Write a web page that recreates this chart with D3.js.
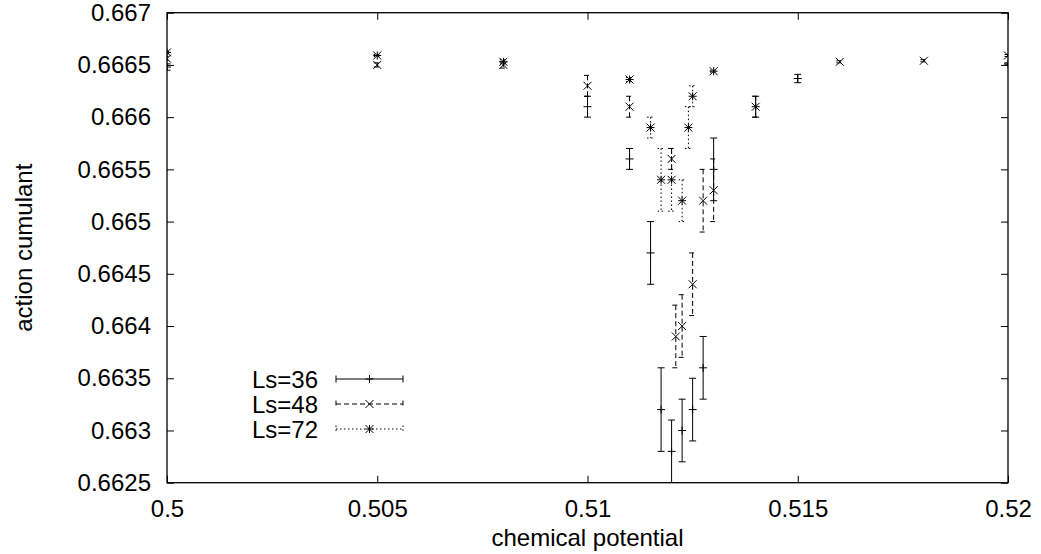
<!DOCTYPE html>
<html>
<head>
<meta charset="utf-8">
<title>action cumulant</title>
<script src="https://d3js.org/d3.v7.min.js"></script>
<style>
 body { margin: 0; background: #fff; }
 text { font-family: "Liberation Sans", Arial, sans-serif; fill: #000; }
</style>
</head>
<body>
<svg id="chart" width="1041" height="554"></svg>
<script>
// tick labels
var xTicks = [0.5, 0.505, 0.51, 0.515, 0.52]
var yTicks = [0.6625, 0.663, 0.6635, 0.664, 0.6645, 0.665, 0.6655, 0.666, 0.6665, 0.667]

// Ls=36
var mu36  = [0.5, 0.51, 0.511, 0.5115, 0.51175, 0.512, 0.51225, 0.5125, 0.51275, 0.513, 0.514, 0.515, 0.52]
var val36 = [0.66648, 0.6661, 0.6656, 0.6647, 0.6632, 0.6628, 0.6630, 0.6632, 0.6636, 0.6655, 0.6661, 0.66637, 0.66651]
var err36 = [0.00003, 0.0001, 0.0001, 0.0003, 0.0004, 0.0003, 0.0003, 0.0003, 0.0003, 0.0003, 0.0001, 0.00004, 0.00001]

// Ls=48
var mu48  = [0.5, 0.505, 0.508, 0.51, 0.511, 0.512, 0.5121, 0.51225, 0.5125, 0.51275, 0.513, 0.514, 0.516, 0.518, 0.52]
var val48 = [0.66656, 0.6665, 0.6665, 0.6663, 0.6661, 0.6656, 0.6639, 0.664, 0.6644, 0.6652, 0.6653, 0.6661, 0.66653, 0.66654, 0.66659]
var err48 = [0.00002, 0.00002, 0.00003, 0.0001, 0.0001, 0.0001, 0.0003, 0.0003, 0.0003, 0.0003, 0.0003, 0.0001, 0.00001, 0.00001, 0.00001]

// Ls=72
var mu72  = [0.5, 0.505, 0.508, 0.511, 0.5115, 0.51175, 0.512, 0.51225, 0.5124, 0.5125, 0.513]
var val72 = [0.66662, 0.66659, 0.66653, 0.66636, 0.6659, 0.6654, 0.6654, 0.6652, 0.6659, 0.6662, 0.66644]
var err72 = [0.00001, 0.00001, 0.00002, 0.00002, 0.0001, 0.0003, 0.0003, 0.0002, 0.0002, 0.0001, 0.00001]

var seriesNames = ["Ls=36", "Ls=48", "Ls=72"]

function draw(){
    var svg = d3.select("#chart")
    var mLeft = 167, mRight = 1008, mTop = 12.7, mBottom = 482.7

    var x = d3.scaleLinear().domain([0.5, 0.52]).range([mLeft, mRight])
    var y = d3.scaleLinear().domain([0.6625, 0.667]).range([mBottom, mTop])

    var series = [
        {name: seriesNames[0], mu: mu36, val: val36, err: err36, dash: null, mark: "plus"},
        {name: seriesNames[1], mu: mu48, val: val48, err: err48, dash: "5,3", mark: "cross"},
        {name: seriesNames[2], mu: mu72, val: val72, err: err72, dash: "1.5,2.5", mark: "star"}
    ]

    svg.append("clipPath").attr("id", "plotclip")
       .append("rect")
       .attr("x", mLeft).attr("y", mTop)
       .attr("width", mRight - mLeft).attr("height", mBottom - mTop)

    // axes, inward ticks on all four sides (gnuplot mirror)
    var fmt = function(d){ return String(+d.toFixed(5)) }
    var gx = svg.append("g").attr("transform", "translate(0," + mBottom + ")")
                .call(d3.axisBottom(x).tickValues(xTicks).tickSize(-7).tickPadding(17).tickFormat(fmt))
    var gxTop = svg.append("g").attr("transform", "translate(0," + mTop + ")")
                .call(d3.axisTop(x).tickValues(xTicks).tickSize(-7).tickFormat(""))
    var gy = svg.append("g").attr("transform", "translate(" + mLeft + ",0)")
                .call(d3.axisLeft(y).tickValues(yTicks).tickSize(-7).tickPadding(16).tickFormat(fmt))
    var gyR = svg.append("g").attr("transform", "translate(" + mRight + ",0)")
                .call(d3.axisRight(y).tickValues(yTicks).tickSize(-7).tickFormat(""))

    ;[gx, gxTop, gy, gyR].forEach(function(g){
        g.select(".domain").remove()
        g.selectAll(".tick line").attr("stroke", "#000").attr("stroke-width", 1)
        g.selectAll("text").style("font-size", "24px").attr("fill", "#000")
           .style("font-family", "'Liberation Sans', Arial, sans-serif")
    })

    svg.append("rect")
       .attr("x", mLeft).attr("y", mTop)
       .attr("width", mRight - mLeft).attr("height", mBottom - mTop)
       .attr("fill", "none").attr("stroke", "#000").attr("stroke-width", 1.3)

    svg.append("text")
       .attr("x", (mLeft + mRight) / 2).attr("y", 546)
       .attr("text-anchor", "middle").style("font-size", "24px")
       .text("chemical potential")

    svg.append("text")
       .attr("transform", "translate(32," + (mTop + mBottom) / 2 + ") rotate(-90)")
       .attr("text-anchor", "middle").style("font-size", "24px")
       .text("action cumulant")

    function marker(g, cx, cy, kind){
        var s = 4
        var p = ""
        if (kind == "plus" || kind == "star")
            p += "M" + (cx - s) + "," + cy + "H" + (cx + s) + "M" + cx + "," + (cy - s) + "V" + (cy + s)
        if (kind == "cross" || kind == "star")
            p += "M" + (cx - s) + "," + (cy - s) + "L" + (cx + s) + "," + (cy + s) +
                 "M" + (cx - s) + "," + (cy + s) + "L" + (cx + s) + "," + (cy - s)
        g.append("path").attr("d", p).attr("stroke", "#000").attr("stroke-width", 1).attr("fill", "none")
    }

    var plot = svg.append("g").attr("clip-path", "url(#plotclip)")
    var cap = 3.5

    series.forEach(function(s){
        var g = plot.append("g")
        s.mu.forEach(function(m, i){
            var cx = x(m), y1 = y(s.val[i] + s.err[i]), y0 = y(s.val[i] - s.err[i])
            var d = "M" + cx + "," + y1 + "V" + y0 +
                    "M" + (cx - cap) + "," + y1 + "H" + (cx + cap) +
                    "M" + (cx - cap) + "," + y0 + "H" + (cx + cap)
            g.append("path").attr("d", d).attr("fill", "none")
             .attr("stroke", "#000").attr("stroke-width", 1)
             .attr("stroke-dasharray", s.dash)
            marker(g, cx, y(s.val[i]), s.mark)
        })
    })

    // legend
    var legY = [379, 404, 429]
    series.forEach(function(s, i){
        var g = svg.append("g")
        g.append("text").attr("x", 318).attr("y", legY[i] + 8.5)
         .attr("text-anchor", "end").style("font-size", "24px").text(s.name)
        var x0 = 336, x1 = 403, yy = legY[i]
        g.append("path")
         .attr("d", "M" + x0 + "," + yy + "H" + x1 +
                    "M" + x0 + "," + (yy - cap) + "V" + (yy + cap) +
                    "M" + x1 + "," + (yy - cap) + "V" + (yy + cap))
         .attr("fill", "none").attr("stroke", "#000").attr("stroke-width", 1)
         .attr("stroke-dasharray", s.dash)
        marker(g, (x0 + x1) / 2, yy, s.mark)
    })
}
draw()
</script>
</body>
</html>
